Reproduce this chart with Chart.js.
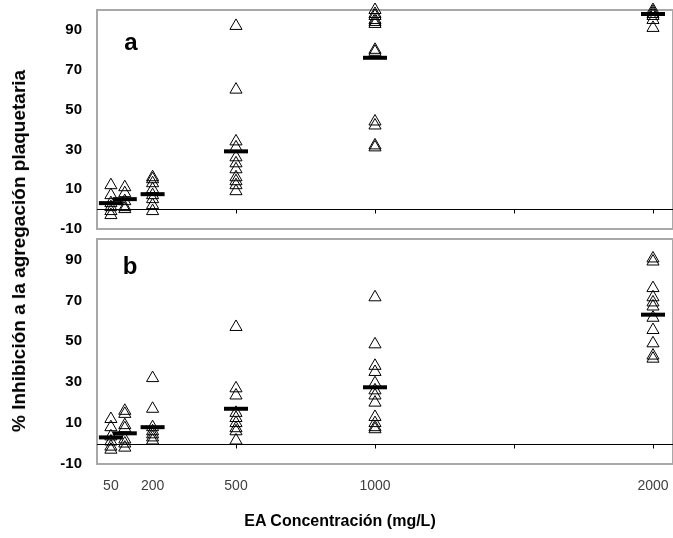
<!DOCTYPE html>
<html>
<head>
<meta charset="utf-8">
<script src="https://cdn.jsdelivr.net/npm/chart.js@4.4.1/dist/chart.umd.min.js"></script>
<style>
    body { margin: 0; background: #fff; width: 673px; height: 538px; position: relative; overflow: hidden;
           font-family: 'Liberation Sans', Arial, sans-serif; }
    #wrapA { position: absolute; left: 0; top: 0; width: 673px; height: 240px; }
    #wrapB { position: absolute; left: 0; top: 230px; width: 673px; height: 308px; }
    .tag { position: absolute; font-weight: bold; font-size: 24px; transform: translate(-50%, -50%); }
    #ytitle { position: absolute; left: 19px; top: 251px; transform: translate(-50%, -50%) rotate(-90deg);
              white-space: nowrap; font-weight: bold; font-size: 19px; }
    #xtitle { position: absolute; left: 340px; top: 521px; transform: translate(-50%, -50%);
              white-space: nowrap; font-weight: bold; font-size: 16px; }
</style>
</head>
<body>
<div id="wrapA"><canvas id="chartA"></canvas></div>
<div id="wrapB"><canvas id="chartB"></canvas></div>
<div class="tag" style="left:131px; top:42px;">a</div>
<div class="tag" style="left:130px; top:266px;">b</div>
<div id="ytitle">% Inhibición a la agregación plaquetaria</div>
<div id="xtitle">EA Concentración (mg/L)</div>
<script>
// concentraciones (mg/L)
const doses = [50, 100, 200, 500, 1000, 2000];
const xTickValues = [50, 200, 500, 1000, 2000];
const zeroLineTicks = [500, 1000, 1500, 2000];
const yTickValues = [90, 70, 50, 30, 10, -10];

// panel a
const a50 = [12, 7, 3, 1, -1, -3];
const a100 = [11, 8, 4, 1, 0];
const a200 = [16, 15, 13, 10, 7, 5, 2, -1];
const a500 = [92, 60, 34, 31, 26, 23, 20, 16, 14, 12, 9];
const a1000 = [100, 98, 97, 95, 94, 93, 80, 79, 44, 42, 32, 31];
const a2000 = [100, 99, 98, 97, 95, 91];
const meansA = [3, 5, 7.5, 29, 76, 98];

// panel b
const b50 = [12, 8, 3.5, 1, -1.5, -3];
const b100 = [16, 14.5, 9, 7.5, 2, 0, -2];
const b200 = [32, 17, 8, 6, 4.5, 3, 1.5];
const b500 = [57, 27, 23.5, 15, 12.5, 10, 7.5, 6, 1.5];
const b1000 = [71.5, 48.5, 38, 35, 29.5, 26, 23.5, 20, 13, 10, 8, 7];
const b2000 = [90.5, 89, 76, 71.5, 69, 67, 61.5, 55.5, 49, 43, 41.5];
const meansB = [3, 5, 8, 17, 27.5, 63];

const FONT = "'Liberation Sans', Arial, sans-serif";

function toPoints(groups) {
    const pts = [];
    groups.forEach((vals, i) => vals.forEach(v => pts.push({ x: doses[i], y: v })));
    return pts;
}

const framePlugin = {
    id: 'frame',
    beforeDatasetsDraw(chart) {
        const { ctx, chartArea: a, scales: { x, y } } = chart;
        ctx.save();
        ctx.strokeStyle = '#a8a8a8';
        ctx.lineWidth = 2;
        ctx.strokeRect(a.left, a.top, a.width, a.height);
        const y0 = Math.round(y.getPixelForValue(0)) + 0.5;
        ctx.strokeStyle = '#000';
        ctx.lineWidth = 1;
        ctx.beginPath();
        ctx.moveTo(a.left, y0);
        ctx.lineTo(a.right, y0);
        zeroLineTicks.forEach(v => {
            const px = Math.round(x.getPixelForValue(v)) + 0.5;
            ctx.moveTo(px, y0);
            ctx.lineTo(px, y0 + 4);
        });
        ctx.stroke();
        ctx.restore();
    }
};

function makePanel(id, groups, means, showX, padding) {
    const ctx = document.getElementById(id).getContext('2d');
    return new Chart(ctx, {
        type: 'scatter',
        data: {
            datasets: [{
                data: means.map((m, i) => ({ x: doses[i], y: m })),
                pointStyle: 'line',
                pointRadius: 12,
                pointBorderWidth: 4,
                borderColor: '#000',
                clip: false
            }, {
                data: toPoints(groups),
                pointStyle: 'triangle',
                pointRadius: 7,
                pointBorderWidth: 1,
                borderColor: '#000',
                backgroundColor: 'rgba(0,0,0,0)',
                clip: false
            }]
        },
        options: {
            responsive: true,
            maintainAspectRatio: false,
            animation: false,
            events: [],
            layout: { padding: padding, autoPadding: false },
            plugins: { legend: { display: false }, tooltip: { enabled: false } },
            scales: {
                x: {
                    type: 'linear',
                    min: 0,
                    max: 2072,
                    display: showX,
                    afterBuildTicks: s => { s.ticks = xTickValues.map(v => ({ value: v })); },
                    afterFit: s => {
                        if (showX) s.height = 74;
                        s.paddingLeft = 0;
                        s.paddingRight = 0;
                    },
                    grid: { display: false, drawTicks: false },
                    border: { display: false },
                    ticks: {
                        autoSkip: false,
                        maxRotation: 0,
                        padding: 14,
                        color: '#404040',
                        font: { family: FONT, size: 14 },
                        callback: v => String(v)
                    }
                },
                y: {
                    min: -10,
                    max: 100,
                    afterBuildTicks: s => { s.ticks = yTickValues.map(v => ({ value: v })); },
                    afterFit: s => {
                        s.width = 97;
                        s.paddingTop = 0;
                        s.paddingBottom = 0;
                    },
                    grid: { display: false, drawTicks: false },
                    border: { display: false },
                    ticks: {
                        padding: 15,
                        color: '#000',
                        font: { family: FONT, size: 15, weight: 'bold' }
                    }
                }
            }
        },
        plugins: [framePlugin]
    });
}

makePanel('chartA', [a50, a100, a200, a500, a1000, a2000], meansA, false,
    { top: 10, bottom: 11, left: 0, right: 0 });
makePanel('chartB', [b50, b100, b200, b500, b1000, b2000], meansB, true,
    { top: 9, bottom: 0, left: 0, right: 0 });
</script>
</body>
</html>
